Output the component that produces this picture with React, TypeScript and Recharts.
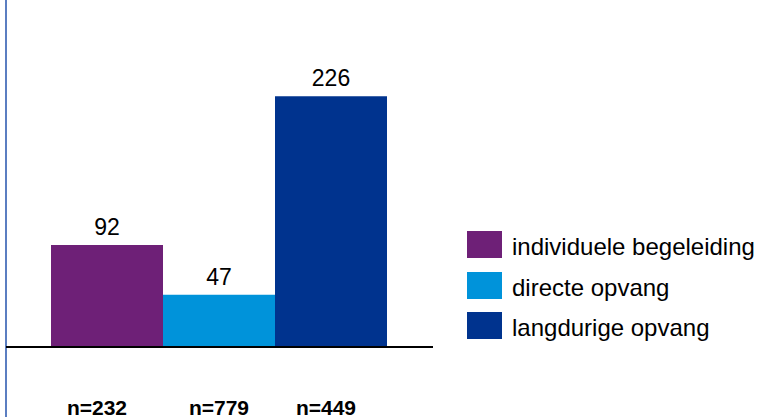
import React from "react";
import { BarChart, Bar, XAxis, YAxis, LabelList, ReferenceLine } from "recharts";

const seriesNames = ["individuele begeleiding", "directe opvang", "langdurige opvang"];
const seriesKeys = ["a", "b", "c"];
const seriesValues = [92, 47, 226];
const sampleLabels = ["n=232", "n=779", "n=449"];
const colors = ["#6E2077", "#0093DA", "#00338E"];

const data = [
  {
    name: "",
    a: seriesValues[0],
    b: seriesValues[1],
    c: seriesValues[2],
  },
];

const FONT = "'Liberation Sans', Arial, sans-serif";

const makeSampleLabel = (text: string, dx: number) => (props: any) => {
  const { x, y, width, height } = props;
  const cx = Number(x) + Number(width) / 2 + dx;
  const base = Number(y) + Number(height);
  return (
    <text x={cx} y={base + 68} textAnchor="middle" fontFamily={FONT} fontWeight="bold" fontSize={21} fill="#000">
      {text}
    </text>
  );
};

const LegendBlock = () => (
  <div style={{ position: "absolute", left: 467, top: 231, fontFamily: FONT }}>
    {seriesNames.map((n, i) => (
      <div key={n} style={{ display: "flex", alignItems: "center", height: 27, marginBottom: i < 2 ? 13.5 : 0 }}>
        <div style={{ width: 35, height: 27, background: colors[i], flexShrink: 0 }} />
        <span style={{ marginLeft: 10, fontSize: 24, color: "#000", lineHeight: "27px", whiteSpace: "nowrap", position: "relative", top: 2 }}>{n}</span>
      </div>
    ))}
  </div>
);

const dxs = [-10, 0, -5];

export default function App() {
  return (
    <div style={{ position: "absolute", left: 0, top: 0, width: 767, height: 417, background: "#fff", overflow: "hidden" }}>
      <div style={{ position: "absolute", left: 5, top: 0, width: 2, height: 417, background: "#5B7EC1" }} />
      <BarChart
        width={767}
        height={417}
        data={data}
        margin={{ top: 14, right: 334, bottom: 70, left: 6 }}
        barCategoryGap={45}
        barGap={0}
      >
        <XAxis dataKey="name" hide />
        <YAxis hide domain={[0, 300]} />
        {seriesKeys.map((k, i) => (
          <Bar key={k} dataKey={k} fill={colors[i]} isAnimationActive={false}>
            <LabelList
              dataKey={k}
              position="top"
              offset={10}
              style={{ fontFamily: FONT, fontSize: 23, fill: "#000" }}
            />
            <LabelList dataKey={k} content={makeSampleLabel(sampleLabels[i], dxs[i])} />
          </Bar>
        ))}
        <ReferenceLine y={0} stroke="#000" strokeWidth={2} />
      </BarChart>
      <LegendBlock />
    </div>
  );
}
